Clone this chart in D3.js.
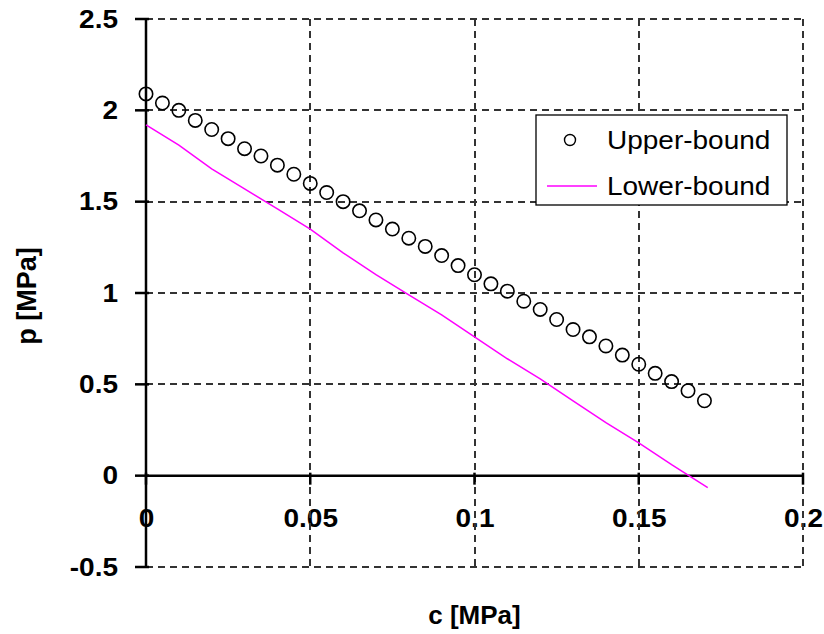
<!DOCTYPE html>
<html>
<head>
<meta charset="utf-8">
<script src="https://cdn.jsdelivr.net/npm/d3@7"></script>
<style>
  body { margin: 0; background: #fff; }
  text { font-family: Arial, "Liberation Sans", sans-serif; fill: #000; }
</style>
</head>
<body>
<div class="js-chart"></div>
<script>
// c values for the upper-bound markers, step 0.005
var upperC = [0, 0.005, 0.01, 0.015, 0.02, 0.025, 0.03, 0.035, 0.04, 0.045,
    0.05, 0.055, 0.06, 0.065, 0.07, 0.075, 0.08, 0.085, 0.09, 0.095,
    0.1, 0.105, 0.11, 0.115, 0.12, 0.125, 0.13, 0.135, 0.14, 0.145,
    0.15, 0.155, 0.16, 0.165, 0.17];
var upperP = [2.09, 2.04, 2.0, 1.945, 1.895, 1.845, 1.79, 1.75, 1.7, 1.65,
    1.6, 1.55, 1.5, 1.45, 1.4, 1.35, 1.3, 1.255, 1.205, 1.15,
    1.1, 1.05, 1.01, 0.955, 0.91, 0.855, 0.8, 0.76, 0.71, 0.66,
    0.61, 0.56, 0.515, 0.465, 0.41];

// lower-bound curve
var lowerC = [0, 0.01, 0.02, 0.03, 0.04, 0.05, 0.06, 0.07, 0.08, 0.09,
    0.1, 0.11, 0.12, 0.13, 0.14, 0.15, 0.16, 0.171];
var lowerP = [1.92, 1.81, 1.68, 1.57, 1.46, 1.35, 1.22, 1.1, 0.99, 0.88,
    0.76, 0.64, 0.53, 0.41, 0.29, 0.18, 0.06, -0.065];

var xTicks = [0, 0.05, 0.1, 0.15, 0.2];
var xTickLabels = ['0', '0.05', '0.1', '0.15', '0.2'];
var yTicks = [-0.5, 0, 0.5, 1, 1.5, 2, 2.5];
var yTickLabels = ['-0.5', '0', '0.5', '1', '1.5', '2', '2.5'];
var seriesNames = ['Upper-bound', 'Lower-bound'];

var W = 824, H = 634;
var svg = d3.select('.js-chart').append('svg')
    .attr('width', W)
    .attr('height', H);

var x = d3.scaleLinear().domain([0, 0.2]).range([146, 803]);
var y = d3.scaleLinear().domain([-0.5, 2.5]).range([567, 19]);

//stretch text horizontally around its anchor point
function stretch(sel, sx) {
    sel.each(function () {
        var t = d3.select(this);
        var tx = +t.attr('x') || 0, ty = +t.attr('y') || 0;
        t.attr('transform', 'translate(' + tx + ',' + ty + ') scale(' + sx + ',1) translate(' + (-tx) + ',' + (-ty) + ')');
    });
}

// tick labels (drawn first, grid lines pass over them)
var xAxis = svg.append('g')
    .attr('transform', 'translate(0,' + y(0) + ')')
    .call(d3.axisBottom(x).tickValues(xTicks)
        .tickFormat(function (d, i) { return xTickLabels[i]; })
        .tickSize(0).tickPadding(34));
xAxis.select('.domain').remove();
xAxis.selectAll('text')
    .style('font-size', '25px').style('font-weight', 'bold')
    .attr('fill', '#000').call(stretch, 1.12);

var yAxis = svg.append('g')
    .attr('transform', 'translate(' + x(0) + ',0)')
    .call(d3.axisLeft(y).tickValues(yTicks)
        .tickFormat(function (d, i) { return yTickLabels[i]; })
        .tickSize(0).tickPadding(28));
yAxis.select('.domain').remove();
yAxis.selectAll('text')
    .style('font-size', '25px').style('font-weight', 'bold')
    .attr('fill', '#000').call(stretch, 1.12);

// dashed grid
var grid = svg.append('g')
    .style('stroke', '#333')
    .style('stroke-width', 2)
    .style('stroke-dasharray', '7,5');
grid.selectAll('.hgrid').data(yTicks.filter(function (d) { return d !== 0; }))
    .enter().append('line')
    .attr('x1', x(0)).attr('x2', x(0.2))
    .attr('y1', function (d) { return Math.round(y(d)); })
    .attr('y2', function (d) { return Math.round(y(d)); });
grid.selectAll('.vgrid').data(xTicks.filter(function (d) { return d !== 0; }))
    .enter().append('line')
    .attr('y1', y(2.5)).attr('y2', y(-0.5))
    .attr('x1', function (d) { return Math.round(x(d)); })
    .attr('x2', function (d) { return Math.round(x(d)); });

// solid axes with cross ticks
var axes = svg.append('g').style('stroke', '#000').style('stroke-width', 2.5);
axes.append('line')
    .attr('x1', x(0)).attr('x2', x(0))
    .attr('y1', y(2.5)).attr('y2', y(-0.5));
axes.append('line')
    .attr('x1', x(0)).attr('x2', x(0.2))
    .attr('y1', y(0)).attr('y2', y(0));
axes.selectAll('.ytick').data(yTicks).enter().append('line')
    .attr('x1', x(0) - 11).attr('x2', x(0) + 3)
    .attr('y1', function (d) { return y(d); })
    .attr('y2', function (d) { return y(d); });
axes.selectAll('.xtick').data(xTicks).enter().append('line')
    .attr('y1', y(0) - 3).attr('y2', y(0) + 9)
    .attr('x1', function (d) { return x(d); })
    .attr('x2', function (d) { return x(d); });

// lower-bound line
var line = d3.line()
    .x(function (d) { return x(d[0]); })
    .y(function (d) { return y(d[1]); });
svg.append('path')
    .datum(d3.zip(lowerC, lowerP))
    .attr('d', line)
    .style('fill', 'none')
    .style('stroke', '#ff00ff')
    .style('stroke-width', 1.5);

// upper-bound markers
svg.selectAll('.upper').data(d3.zip(upperC, upperP)).enter().append('circle')
    .attr('cx', function (d) { return x(d[0]); })
    .attr('cy', function (d) { return y(d[1]); })
    .attr('r', 6.7)
    .style('fill', 'none')
    .style('stroke', '#000')
    .style('stroke-width', 1.6);

// axis titles
svg.append('text')
    .attr('x', x(0.1)).attr('y', 624)
    .attr('text-anchor', 'middle')
    .style('font-size', '26px').style('font-weight', 'bold')
    .text('c [MPa]');
svg.append('text')
    .attr('transform', 'translate(36,' + (y(1) + 3) + ') rotate(-90)')
    .attr('text-anchor', 'middle')
    .style('font-size', '27px').style('font-weight', 'bold')
    .text('p [MPa]');

// legend
var legend = svg.append('g');
legend.append('rect')
    .attr('x', 536).attr('y', 115)
    .attr('width', 251).attr('height', 90)
    .style('fill', '#fff')
    .style('stroke', '#000')
    .style('stroke-width', 1.3);
legend.append('circle')
    .attr('cx', 570).attr('cy', 140).attr('r', 5.5)
    .style('fill', 'none').style('stroke', '#000').style('stroke-width', 1.4);
legend.append('line')
    .attr('x1', 547).attr('x2', 597).attr('y1', 186).attr('y2', 186)
    .style('stroke', '#ff00ff').style('stroke-width', 1.5);
legend.selectAll('.lbl').data(seriesNames).enter().append('text')
    .attr('x', 607)
    .attr('y', function (d, i) { return 149 + i * 46; })
    .style('font-size', '25px')
    .attr('fill', '#222')
    .text(function (d) { return d; })
    .call(stretch, 1.12);
</script>
</body>
</html>
